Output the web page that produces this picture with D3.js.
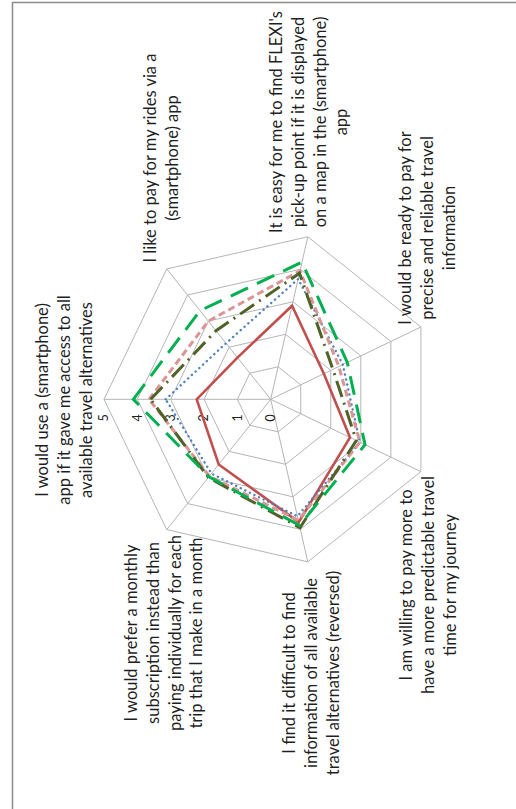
<!DOCTYPE html>
<html>
<head>
<meta charset="utf-8">
<script src="https://cdn.jsdelivr.net/npm/d3@7"></script>
<style>
  html, body { margin: 0; padding: 0; background: #ffffff; }
  svg { display: block; }
  text { font-family: Lato, "Open Sans", sans-serif; fill: #1f1f1f; }
</style>
</head>
<body>
<script>
// Survey statements (one spoke each), in clockwise order starting at the first spoke
const categories = [
  ["I would use a (smartphone)", "app if it gave me access to all", "available travel alternatives"],
  ["I like to pay for my rides via a", "(smartphone) app"],
  ["It is easy for me to find FLEXI's", "pick-up point if it is displayed", "on a map in the (smartphone)", "app"],
  ["I would be ready to pay for", "precise and reliable travel", "information"],
  ["I am willing to pay more to", "have a more predictable travel", "time for my journey"],
  ["I find it difficult to find", "information of all available", "travel alternatives (reversed)"],
  ["I would prefer a monthly", "subscription instead than", "paying individually for each", "trip that I make in a month"]
];

// Radial tick labels
const tickValues = [0, 1, 2, 3, 4, 5];

// Mean agreement scores per group
const series1 = [2.22, 1.60, 2.88, 1.77, 2.64, 3.78, 2.50];
const series2 = [3.15, 2.15, 3.70, 2.40, 2.97, 3.60, 2.85];
const series3 = [3.65, 3.00, 3.95, 2.27, 2.97, 3.72, 2.95];
const series4 = [3.60, 2.63, 3.88, 2.07, 2.85, 3.95, 3.00];
const series5 = [4.12, 3.40, 4.22, 2.55, 3.14, 3.88, 2.97];

// Line styling for each group
const seriesStyles = [
  { data: series1, color: "#C0504D", width: 2.6, dash: null,        cap: "butt" },
  { data: series2, color: "#4F81BD", width: 2.4, dash: "0.1 5",     cap: "round" },
  { data: series3, color: "#DA9694", width: 3.0, dash: "7 4",       cap: "butt" },
  { data: series4, color: "#4F6228", width: 3.0, dash: "17 6 2 6",  cap: "butt" },
  { data: series5, color: "#00B050", width: 3.0, dash: "19 10",     cap: "butt" }
];

// Label block centres (page coordinates)
const labelCentres = [
  [64, 400], [161.5, 158], [309, 122], [427, 228], [428.3, 585], [311, 673], [164, 633]
];

const W = 516, H = 809;
const cx = 270.7, cy = 399.3, R = 166.7;
const lineGap = 21.8;

const svg = d3.select("body").append("svg")
  .attr("width", W).attr("height", H);

// Chart-area frame (left and top edges)
svg.append("path")
  .attr("d", `M12.5,${H} V2.5 H${W}`)
  .attr("fill", "none")
  .attr("stroke", "#8c8c8c")
  .attr("stroke-width", 1.5);

const r = d3.scaleLinear().domain([0, 5]).range([0, R]);
const angle = d3.scaleLinear().domain([0, categories.length]).range([0, 2 * Math.PI]);

// The whole radar is turned a quarter-turn anticlockwise
const g = svg.append("g")
  .attr("transform", `translate(${cx},${cy}) rotate(-90)`);

const radial = d3.lineRadial()
  .angle((d, i) => angle(i))
  .radius(d => r(d))
  .curve(d3.curveLinearClosed);

// Grid rings
tickValues.filter(t => t > 0).forEach(t => {
  g.append("path")
    .attr("d", radial(categories.map(() => t)))
    .attr("fill", "none")
    .attr("stroke", "#b5b5b5")
    .attr("stroke-width", 1);
});

// Spokes
categories.forEach((c, i) => {
  const a = angle(i);
  g.append("line")
    .attr("x1", 0).attr("y1", 0)
    .attr("x2", Math.sin(a) * r(5)).attr("y2", -Math.cos(a) * r(5))
    .attr("stroke", "#b5b5b5")
    .attr("stroke-width", 1);
});

// Tick labels along the first spoke
g.selectAll("text.tick")
  .data(tickValues)
  .join("text")
  .attr("class", "tick")
  .attr("x", -15)
  .attr("y", d => -r(d))
  .attr("text-anchor", "end")
  .attr("dy", "0.35em")
  .style("font-size", "12.5px")
  .text(d => d);

// Data polygons
seriesStyles.forEach(s => {
  g.append("path")
    .attr("d", radial(s.data))
    .attr("fill", "none")
    .attr("stroke", s.color)
    .attr("stroke-width", s.width)
    .attr("stroke-linejoin", "miter")
    .attr("stroke-linecap", s.cap)
    .attr("stroke-dasharray", s.dash);
});

// Statement labels (horizontal in the rotated frame)
categories.forEach((lines, i) => {
  const [sx, sy] = labelCentres[i];
  const t = g.append("text")
    .attr("text-anchor", "middle")
    .style("font-size", "16.5px");
  lines.forEach((ln, j) => {
    const px = sx + (j - (lines.length - 1) / 2) * lineGap;
    t.append("tspan")
      .attr("x", -(sy - cy))
      .attr("y", px - cx)
      .attr("dy", "0.35em")
      .text(ln);
  });
});
</script>
</body>
</html>
